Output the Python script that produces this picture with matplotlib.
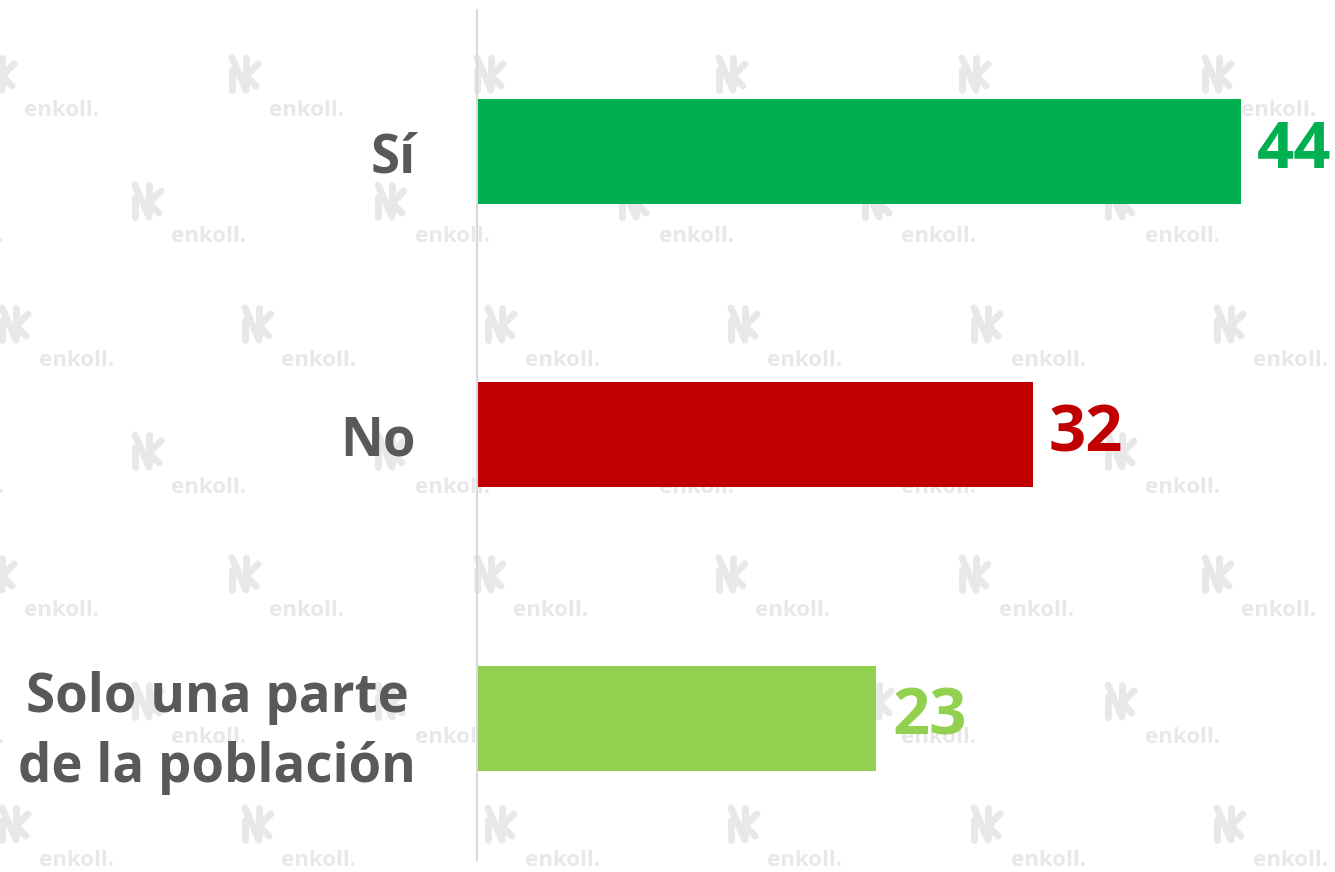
import matplotlib
matplotlib.use("Agg")
import matplotlib.pyplot as plt
from matplotlib.lines import Line2D

categories = ["Sí", "No", "Solo una parte\nde la población"]
values = [44, 32, 23]
colors = ["#00B050", "#C00000", "#92D050"]

W, H = 1335, 872
fig = plt.figure(figsize=(W / 100, H / 100), dpi=100)
fig.patch.set_facecolor("white")

# watermark tiles (decoration only)
row_a = [62, 306, 551, 793, 1036, 1279]
row_b = [-34, 209, 452, 696, 939, 1182]
row_c = [76, 319, 562, 805, 1048, 1291]
rows = [(110, row_a), (237, row_b), (360, row_c), (487, row_b),
        (610, row_a), (737, row_b), (860, row_c)]
wm = "#e8e8e8"


def fx(px):
    return px / W


def fy(py):
    return 1 - py / H


for y, xs in rows:
    for x in xs:
        fig.text(fx(x), fy(y), "enkoll.", color=wm, fontsize=16,
                 fontweight="bold", family="Open Sans", ha="center",
                 va="center", zorder=-5)
        # rough logo mark
        lx, ly = x - 62, y - 36
        strokes = [
            ([lx - 12, lx - 12], [ly - 4, ly + 16]),
            ([lx - 12, lx + 2], [ly - 16, ly + 16]),
            ([lx + 2, lx + 2], [ly - 16, ly + 12]),
            ([lx + 2, lx + 14], [ly + 2, ly - 10]),
            ([lx + 2, lx + 12], [ly + 2, ly + 12]),
        ]
        for xs_, ys_ in strokes:
            fig.add_artist(Line2D([fx(v) for v in xs_], [fy(v) for v in ys_],
                                  color=wm, lw=5, solid_capstyle="round",
                                  zorder=-5))

ax_left = 477
ax_top, ax_bot = 10, 860
ax = fig.add_axes([ax_left / W, 1 - ax_bot / H, (W - ax_left) / W,
                   (ax_bot - ax_top) / H])
ax.set_facecolor("none")

px_per_unit = (1241 - ax_left) / 44
ax.set_xlim(0, (W - ax_left) / px_per_unit)
half = (ax_bot - ax_top) / 283 / 2
ax.set_ylim(1 + half, 1 - half)

ypos = list(range(len(categories)))
ax.barh(ypos, values, height=105 / 283, color=colors, zorder=2)

for y, v, c in zip(ypos, values, colors):
    ax.text(v + 16 / px_per_unit, y, str(v), color=c, fontsize=47,
            fontweight="bold", family="Open Sans", va="center", ha="left",
            clip_on=False)

ax.set_yticks(ypos)
ax.set_yticklabels(categories, fontsize=38, fontweight="bold",
                   family="Open Sans", color="#595959",
                   multialignment="center", linespacing=1.4)
ax.tick_params(axis="y", length=0, pad=44)
ax.set_xticks([])

for s in ["top", "right", "bottom"]:
    ax.spines[s].set_visible(False)
ax.spines["left"].set_color("#d9d9d9")
ax.spines["left"].set_linewidth(1.5)

fig.savefig("out.png", dpi=100)
